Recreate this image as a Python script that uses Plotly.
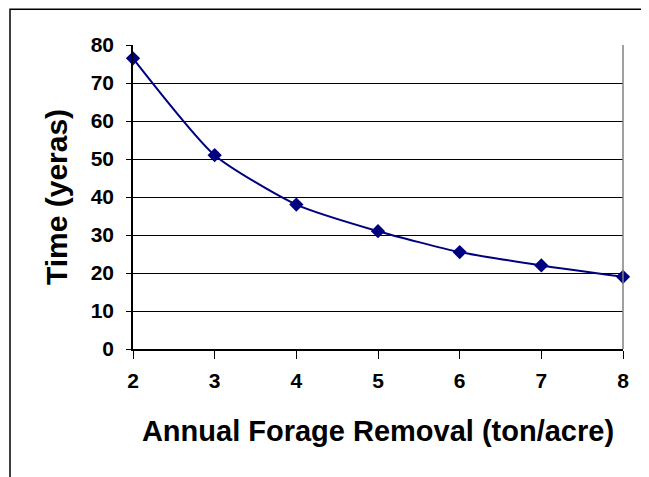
import plotly.graph_objects as go

# annual forage removal (ton/acre) vs time (years)
removal = [2, 3, 4, 5, 6, 7, 8]
years = [76.5, 51, 38, 31, 25.5, 22, 19]

x_ticks = [2, 3, 4, 5, 6, 7, 8]
y_ticks = [0, 10, 20, 30, 40, 50, 60, 70, 80]

navy = '#000080'
font_family = 'Liberation Sans, Arial, sans-serif'

fig = go.Figure()
fig.add_trace(go.Scatter(
    x=removal, y=years, mode='lines+markers',
    line=dict(color=navy, width=2, shape='spline', smoothing=0.6),
    marker=dict(symbol='diamond', size=11, color=navy),
    cliponaxis=False, showlegend=False))

# page body has an 8px margin, so the figure is sized to fit the window
fig.update_layout(
    width=641, height=469,
    margin=dict(l=125, r=26, t=37, b=128),
    paper_bgcolor='white', plot_bgcolor='white',
    font=dict(family=font_family, color='black'),
    xaxis=dict(
        range=[2, 8], tickvals=x_ticks, showgrid=False, zeroline=False,
        showline=True, linecolor='black', linewidth=1.5,
        ticks='outside', ticklen=8, tickcolor='black',
        ticklabelstandoff=4,
        tickfont=dict(size=21, family=font_family, weight='bold'),
        title=dict(text='Annual Forage Removal (ton/acre)',
                   font=dict(size=29, weight='bold'), standoff=30)),
    yaxis=dict(
        range=[0, 80], tickvals=y_ticks, showgrid=True, gridcolor='black',
        gridwidth=1, zeroline=False,
        showline=True, linecolor='black', linewidth=1.5,
        ticks='outside', ticklen=5, tickcolor='black',
        ticklabelstandoff=8,
        tickfont=dict(size=21, family=font_family, weight='bold'),
        title=dict(text='Time (yeras)', font=dict(size=30, weight='bold'),
                   standoff=14)),
)

# plot area border (right edge, gray) and outer chart frame
fig.add_shape(type='line', xref='paper', yref='paper', x0=1, x1=1, y0=0, y1=1,
              line=dict(color='#808080', width=1.5))
fig.add_shape(type='rect', xref='paper', yref='paper',
              x0=-0.251, x1=1.0408, y0=-0.6, y1=1.118,
              line=dict(color='black', width=1.5))

fig.write_html("out.html")
